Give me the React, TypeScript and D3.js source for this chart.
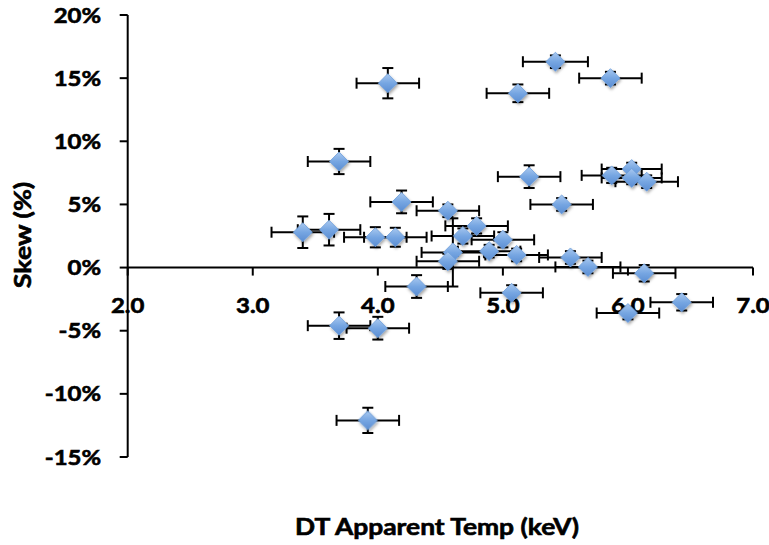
import React from 'react';
import * as d3 from 'd3';

// values
const temp = [4.08, 5.42, 5.86, 5.12, 3.69, 5.21, 5.87, 6.03, 6.03, 6.15, 5.47, 4.19, 4.56, 3.40, 3.61, 3.98, 4.14,
  4.68, 4.60, 4.56, 4.79, 5.00, 4.89, 5.11, 5.54, 5.68, 6.13, 5.07, 6.43, 6.00, 4.31, 3.69, 4.00, 3.92];
const skew = [14.6, 16.3, 15.0, 13.8, 8.4, 7.2, 7.3, 7.8, 7.1, 6.8, 5.0, 5.2, 4.5, 2.8, 3.0, 2.4, 2.4,
  2.5, 1.2, 0.5, 3.3, 2.2, 1.3, 1.0, 0.8, 0.05, -0.45, -2.0, -2.75, -3.6, -1.5, -4.6, -4.8, -12.1];
const tempErr = [0.25, 0.26, 0.25, 0.25, 0.25, 0.25, 0.24, 0.24, 0.24, 0.25, 0.25, 0.25, 0.25, 0.25, 0.25, 0.25, 0.25,
  0.25, 0.25, 0.25, 0.25, 0.25, 0.25, 0.25, 0.25, 0.26, 0.25, 0.25, 0.25, 0.25, 0.25, 0.25, 0.25, 0.25];
const skewErr = [1.2, 0.5, 0.5, 0.7, 1.0, 0.9, 0.6, 0.5, 0.5, 0.5, 0.5, 0.9, 0.5, 1.25, 1.25, 0.8, 0.75,
  0.6, 2.7, 0.6, 0.6, 0.6, 0.5, 0.5, 0.5, 0.5, 0.65, 0.6, 0.65, 0.5, 0.9, 1.05, 0.9, 1.0];

const xTicks = [2, 3, 4, 5, 6, 7];
const yTicks = [-15, -10, -5, 0, 5, 10, 15, 20];

const xTitle = 'DT Apparent Temp (keV)';
const yTitle = 'Skew (%)';

export default function App() {
  const width = 769;
  const height = 545;
  const x = d3.scaleLinear().domain([2, 7]).range([127.7, 753]);
  const y = d3.scaleLinear().domain([-15, 20]).range([457, 15]);
  const font = 'Lato, "Open Sans", sans-serif';
  const diamond = d3.symbol(d3.symbolSquare, 180)();
  const cap = 5.5;

  const points = temp.map((t, i) => ({ t, s: skew[i], te: tempErr[i], se: skewErr[i] }));

  return (
    <svg width={width} height={height} style={{ position: 'absolute', left: 0, top: 0, background: '#fff' }}>
      <defs>
        <linearGradient id='mk' x1='0' y1='0' x2='1' y2='1'>
          <stop offset='0%' stopColor='#a9c8ef' />
          <stop offset='50%' stopColor='#76a6e2' />
          <stop offset='100%' stopColor='#5b8dd2' />
        </linearGradient>
        <filter id='sh' x='-50%' y='-50%' width='200%' height='200%'>
          <feDropShadow dx='1' dy='2' stdDeviation='1.5' floodColor='#000' floodOpacity='0.35' />
        </filter>
      </defs>

      {/* axes */}
      <g stroke='#000' strokeWidth={2}>
        <line x1={x(2)} x2={x(2)} y1={y(20)} y2={y(-15)} />
        {yTicks.map(v => <line key={v} x1={x(2) - 8} x2={x(2)} y1={y(v)} y2={y(v)} />)}
        <line x1={x(2)} x2={x(7)} y1={y(0)} y2={y(0)} />
        {xTicks.map(v => <line key={v} x1={x(v)} x2={x(v)} y1={y(0)} y2={y(0) + 8} />)}
      </g>
      <g fontFamily={font} fontWeight='bold' fill='#000' stroke='#000' strokeWidth={0.6}>
        {yTicks.map(v => (
          <text key={v} transform={`translate(101,${y(v)}) scale(1.14,1)`} dy='0.36em' fontSize={21}
            textAnchor='end'>{v + '%'}</text>
        ))}
        {xTicks.map(v => (
          <text key={v} transform={`translate(${x(v)},305) scale(1.14,1)`} dy='0.36em' fontSize={21}
            textAnchor='middle'>{v.toFixed(1)}</text>
        ))}
        <text transform='translate(437,527) scale(1.2,1)' dy='0.36em' fontSize={22}
          textAnchor='middle'>{xTitle}</text>
        <text transform='translate(23,235) rotate(-90) scale(1.22,1)' dy='0.36em' fontSize={22}
          textAnchor='middle'>{yTitle}</text>
      </g>

      {/* error bars */}
      <g stroke='#000' strokeWidth={2}>
        {points.map((p, i) => (
          <g key={i}>
            <line x1={x(p.t - p.te)} x2={x(p.t + p.te)} y1={y(p.s)} y2={y(p.s)} />
            <line x1={x(p.t - p.te)} x2={x(p.t - p.te)} y1={y(p.s) - cap} y2={y(p.s) + cap} />
            <line x1={x(p.t + p.te)} x2={x(p.t + p.te)} y1={y(p.s) - cap} y2={y(p.s) + cap} />
            <line x1={x(p.t)} x2={x(p.t)} y1={y(p.s + p.se)} y2={y(p.s - p.se)} />
            <line x1={x(p.t) - cap} x2={x(p.t) + cap} y1={y(p.s + p.se)} y2={y(p.s + p.se)} />
            <line x1={x(p.t) - cap} x2={x(p.t) + cap} y1={y(p.s - p.se)} y2={y(p.s - p.se)} />
          </g>
        ))}
      </g>

      {/* markers */}
      <g filter='url(#sh)'>
        {points.map((p, i) => (
          <path key={i} d={diamond!} transform={`translate(${x(p.t)},${y(p.s)}) rotate(45)`}
            fill='url(#mk)' stroke='#6f9fdc' strokeWidth={0.8} />
        ))}
      </g>
    </svg>
  );
}
